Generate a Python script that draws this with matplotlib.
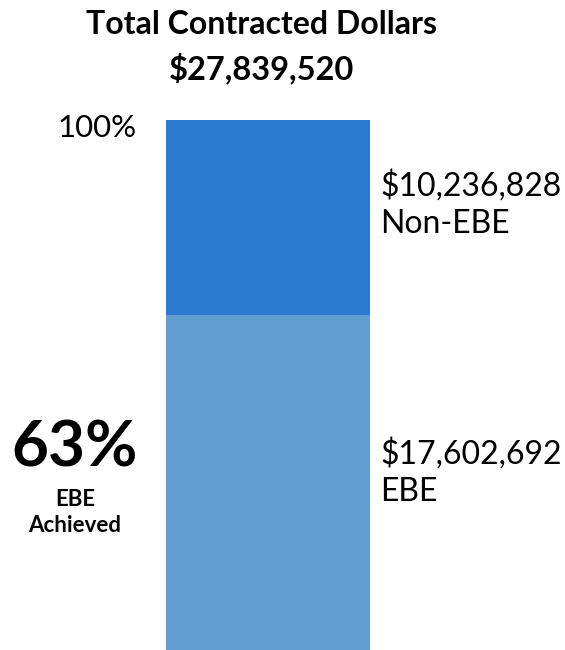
import matplotlib
matplotlib.use('Agg')
import matplotlib.pyplot as plt

# Data
categories = ['EBE', 'Non-EBE']
dollars = [17602692, 10236828]
colors = ['#619DD0', '#2B7BD3']

total = sum(dollars)
ebe_pct = dollars[0] / total * 100

plt.rcParams['font.family'] = ['Lato', 'DejaVu Sans']

W, H = 565, 650
fig = plt.figure(figsize=(W / 100, H / 100), dpi=100)

def px(x, y):
  return x / W, 1 - y / H

# bar occupies x 166..370, y 120..650
ax = fig.add_axes([166 / W, 0, (370 - 166) / W, (650 - 120) / H])
bottom = 0
for val, col in zip(dollars, colors):
  ax.bar(0, val, bottom=bottom, width=1, color=col, edgecolor='none')
  bottom += val
ax.set_xlim(-0.5, 0.5)
ax.set_ylim(0, total)
ax.axis('off')

fig.text(*px(262, 24), 'Total Contracted Dollars', ha='center', va='center',
         fontsize=23, fontweight='bold')
fig.text(*px(262, 68), f'${total:,}', ha='center', va='center',
         fontsize=23.5, fontweight='bold')
fig.text(*px(97, 128), '100%', ha='center', va='center', fontsize=22.5)

fig.text(*px(380, 186), f'${dollars[1]:,}', ha='left', va='center', fontsize=23)
fig.text(*px(380, 224), 'Non-EBE', ha='left', va='center', fontsize=23)
fig.text(*px(380, 454), f'${dollars[0]:,}', ha='left', va='center', fontsize=23)
fig.text(*px(380, 492), 'EBE', ha='left', va='center', fontsize=23)

fig.text(*px(75, 448), f'{ebe_pct:.0f}%', ha='center', va='center',
         fontsize=46, fontweight='bold')
fig.text(*px(75, 499), 'EBE', ha='center', va='center', fontsize=16, fontweight='bold')
fig.text(*px(75, 525), 'Achieved', ha='center', va='center', fontsize=16, fontweight='bold')

fig.savefig('out.png', dpi=100)
